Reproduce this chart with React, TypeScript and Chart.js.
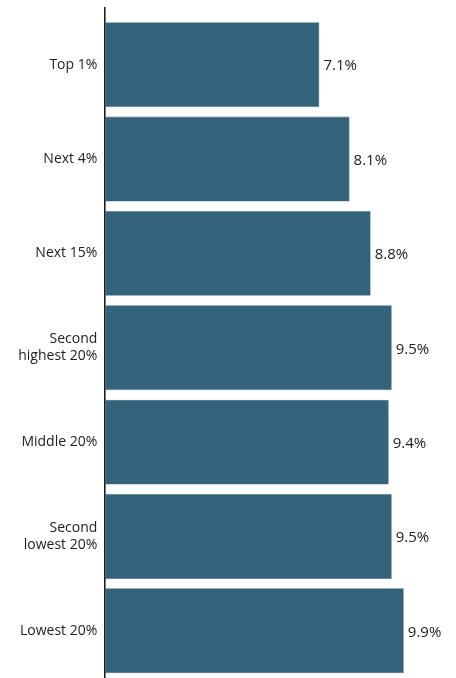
import React, { useEffect, useRef } from "react";
import { Chart, registerables } from "chart.js";

Chart.register(...registerables);

const categories: (string | string[])[] = [
  "Top 1%",
  "Next 4%",
  "Next 15%",
  ["Second", "highest 20%"],
  "Middle 20%",
  ["Second", "lowest 20%"],
  "Lowest 20%",
];
const values: number[] = [7.1, 8.1, 8.8, 9.5, 9.4, 9.5, 9.9];

const FONT = "'Open Sans', 'Noto Sans', sans-serif";

const valueLabels = {
  id: "valueLabels",
  afterDatasetsDraw(chart: any) {
    const ctx = chart.ctx;
    const meta = chart.getDatasetMeta(0);
    ctx.save();
    ctx.font = `15px ${FONT}`;
    ctx.fillStyle = "#222";
    ctx.textAlign = "left";
    ctx.textBaseline = "middle";
    meta.data.forEach((bar: any, i: number) => {
      ctx.fillText(values[i].toFixed(1) + "%", bar.x + 4, bar.y + 1.5);
    });
    ctx.restore();
  },
};

const axisLine = {
  id: "axisLine",
  afterDatasetsDraw(chart: any) {
    const ctx = chart.ctx;
    const a = chart.chartArea;
    ctx.save();
    ctx.strokeStyle = "#111";
    ctx.lineWidth = 1.5;
    ctx.beginPath();
    ctx.moveTo(a.left - 0.5, 7);
    ctx.lineTo(a.left - 0.5, chart.height);
    ctx.stroke();
    ctx.restore();
  },
};

export default function App() {
  const ref = useRef<HTMLCanvasElement>(null);
  useEffect(() => {
    if (!ref.current) return;
    const chart = new Chart(ref.current, {
      type: "bar",
      data: {
        labels: categories,
        datasets: [
          {
            data: values,
            backgroundColor: "#34647b",
            borderColor: "#4a768b",
            borderWidth: 0.6,
            barPercentage: 0.9,
            categoryPercentage: 1,
          },
        ],
      },
      options: {
        indexAxis: "y",
        animation: false,
        responsive: false,
        maintainAspectRatio: false,
        layout: { padding: { top: 17.5, right: 19, bottom: 0, left: 0 } },
        plugins: { legend: { display: false }, tooltip: { enabled: false } },
        scales: {
          x: {
            min: 0,
            max: 11,
            display: false,
          },
          y: {
            grid: { display: false, drawTicks: false },
            border: { display: false },
            ticks: {
              padding: 8,
              color: "#222",
              font: { family: FONT, size: 14 },
            },
            afterFit(scale: any) {
              scale.width = 105.3;
              scale.paddingTop = 0;
              scale.paddingBottom = 0;
            },
          },
        },
      },
      plugins: [valueLabels, axisLine],
    });
    return () => chart.destroy();
  }, []);
  return (
    <div style={{ position: "absolute", left: 0, top: 0, width: 456, height: 678 }}>
      <canvas ref={ref} width={456} height={678} style={{ width: 456, height: 678 }} />
    </div>
  );
}
